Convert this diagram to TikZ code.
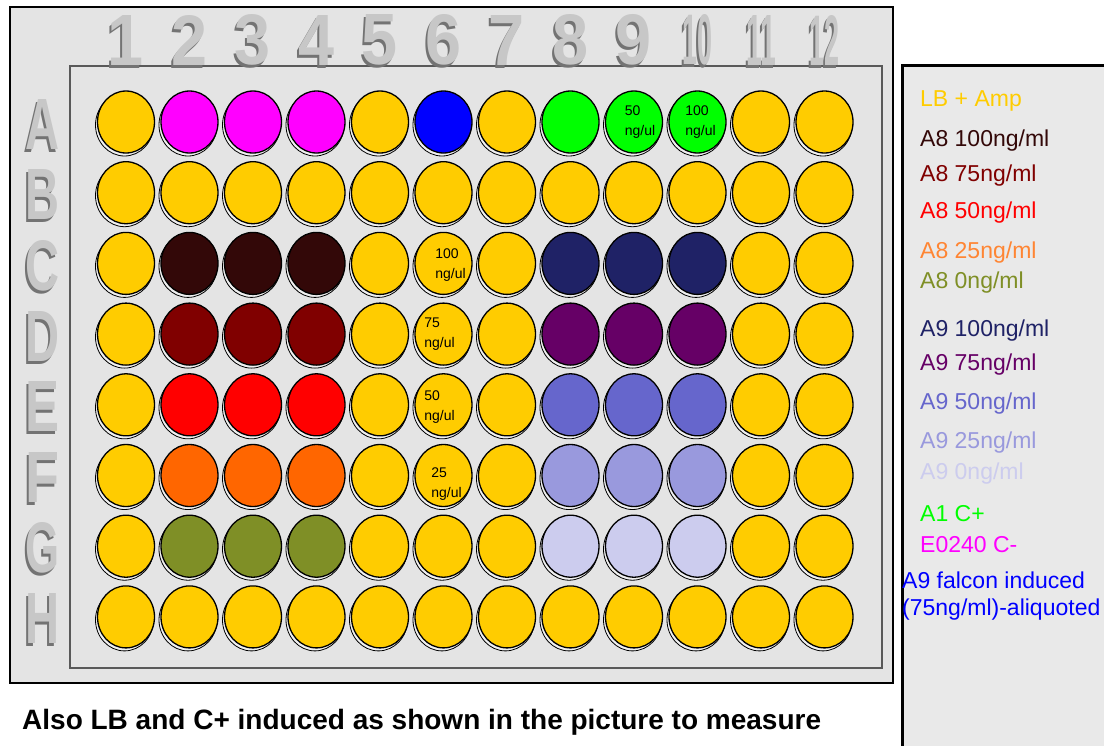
\documentclass[tikz,border=0pt]{standalone}
\usepackage{fontspec}
\setmainfont{Liberation Sans}
\usetikzlibrary{shapes.geometric}
\definecolor{wy}{HTML}{FFCC00}
\definecolor{wm}{HTML}{FF00FF}
\definecolor{wb}{HTML}{0000FF}
\definecolor{wg}{HTML}{00FF00}
\definecolor{ca}{HTML}{330808}
\definecolor{cb}{HTML}{800000}
\definecolor{cc}{HTML}{FF0000}
\definecolor{cd}{HTML}{FF6600}
\definecolor{ce}{HTML}{7F8F26}
\definecolor{na}{HTML}{1F2266}
\definecolor{nb}{HTML}{660066}
\definecolor{nc}{HTML}{6666CC}
\definecolor{nd}{HTML}{9999DD}
\definecolor{ne}{HTML}{CCCCEE}
\definecolor{panel}{HTML}{E4E4E4}
\tikzset{
  well/.style={ellipse, draw=black, line width=1.3pt, minimum width=57pt, minimum height=62pt,
               inner sep=0pt},
  wellring/.style={ellipse, draw=black, line width=0.8pt, minimum width=58pt, minimum height=62pt,
                   inner sep=0pt, fill=black!6},
  platelbl/.style={inner sep=0pt, text=black!22},
  plateshade/.style={inner sep=0pt, text=black!55},
  welltxt/.style={inner sep=0pt, align=left, font=\fontsize{14}{20}\selectfont},
  lgd/.style={anchor=west, inner sep=0pt, font=\fontsize{23}{27}\selectfont},
}
\newcommand{\platechar}[2]{\resizebox{#1}{50pt}{\bfseries #2}}

\begin{document}
\begin{tikzpicture}[x=1pt, y=-1pt]
  \useasboundingbox (0,0) rectangle (1104,745);
  \clip (0,0) rectangle (1104,745);
  % plate and legend panels
  \draw[line width=2pt, fill=panel] (10,7) rectangle (893,683);
  \draw[line width=2pt, draw=black!65] (70,66) rectangle (882,668);
  \fill[panel!80!white] (902,65) rectangle (1110,750);
  \draw[line width=3pt] (902,750) -- (902,65) -- (1110,65);
  % column numbers and row letters
  \foreach \n in {1,...,12}{
    \node[plateshade] at ({124+63.5*(\n-1)}, 43) {\platechar{\ifnum\n>9 30pt\else 36pt\fi}{\n}};
    \node[platelbl] (c\n) at ({126+63.5*(\n-1)}, 40) {\platechar{\ifnum\n>9 30pt\else 36pt\fi}{\n}};
  }
  \foreach \r [count=\i] in {A,...,H}{
    \node[plateshade] at (41, {127+70.7*(\i-1)}) {\platechar{34pt}{\r}};
    \node[platelbl] (r\r) at (43, {124+70.7*(\i-1)}) {\platechar{34pt}{\r}};
  }
  % wells
  \foreach \r/\cols [count=\i] in {
      A/{wy,wm,wm,wm,wy,wb,wy,wg,wg,wg,wy,wy},
      B/{wy,wy,wy,wy,wy,wy,wy,wy,wy,wy,wy,wy},
      C/{wy,ca,ca,ca,wy,wy,wy,na,na,na,wy,wy},
      D/{wy,cb,cb,cb,wy,wy,wy,nb,nb,nb,wy,wy},
      E/{wy,cc,cc,cc,wy,wy,wy,nc,nc,nc,wy,wy},
      F/{wy,cd,cd,cd,wy,wy,wy,nd,nd,nd,wy,wy},
      G/{wy,ce,ce,ce,wy,wy,wy,ne,ne,ne,wy,wy},
      H/{wy,wy,wy,wy,wy,wy,wy,wy,wy,wy,wy,wy}}{
    \foreach \c [count=\j] in \cols{
      \node[wellring] at ({124.5+63.5*(\j-1)}, {125+70.7*(\i-1)}) {};
      \node[well, fill=\c] (\r\j) at ({126+63.5*(\j-1)}, {122+70.7*(\i-1)}) {};
    }
  }
  % concentrations written in wells
  \node[welltxt] (tA9) at ([xshift=6pt]A9) {50\\ng/ul};
  \node[welltxt] (tA10) at ([xshift=3pt]A10) {100\\ng/ul};
  \node[welltxt] (tC6) at ([xshift=7pt, yshift=-2pt]C6) {100\\ng/ul};
  \node[welltxt] (tD6) at ([xshift=-4pt]D6) {75\\ng/ul};
  \node[welltxt] (tE6) at ([xshift=-4pt, yshift=-2pt]E6) {50\\ng/ul};
  \node[welltxt] (tF6) at ([xshift=3pt, yshift=-9pt]F6) {25\\ng/ul};
  % legend
  \node[lgd, text=wy] (l1) at (920,101) {LB + Amp};
  \node[lgd, text=ca] (l2) at (920,141) {A8 100ng/ml};
  \node[lgd, text=cb] (l3) at (920,176) {A8 75ng/ml};
  \node[lgd, text=cc] (l4) at (920,213) {A8 50ng/ml};
  \node[lgd, text=cd!80!white] (l5) at (920,253) {A8 25ng/ml};
  \node[lgd, text=ce] (l6) at (920,283) {A8 0ng/ml};
  \node[lgd, text=na] (l7) at (920,331) {A9 100ng/ml};
  \node[lgd, text=nb] (l8) at (920,365) {A9 75ng/ml};
  \node[lgd, text=nc] (l9) at (920,404) {A9 50ng/ml};
  \node[lgd, text=nd] (l10) at (920,443) {A9 25ng/ml};
  \node[lgd, text=ne] (l11) at (920,474) {A9 0ng/ml};
  \node[lgd, text=wg] (l12) at (920,514) {A1 C+};
  \node[lgd, text=wm] (l13) at (920,545) {E0240 C-};
  \node[lgd, text=wb, align=left] (l14) at (902,596) {A9 falcon induced\\(75ng/ml)-aliquoted};
  % note under the plate
  \node[anchor=west, inner sep=0pt, font=\bfseries\fontsize{28}{32}\selectfont] (note) at (22,722)
    {Also LB and C+ induced as shown in the picture to measure};
\end{tikzpicture}
\end{document}
